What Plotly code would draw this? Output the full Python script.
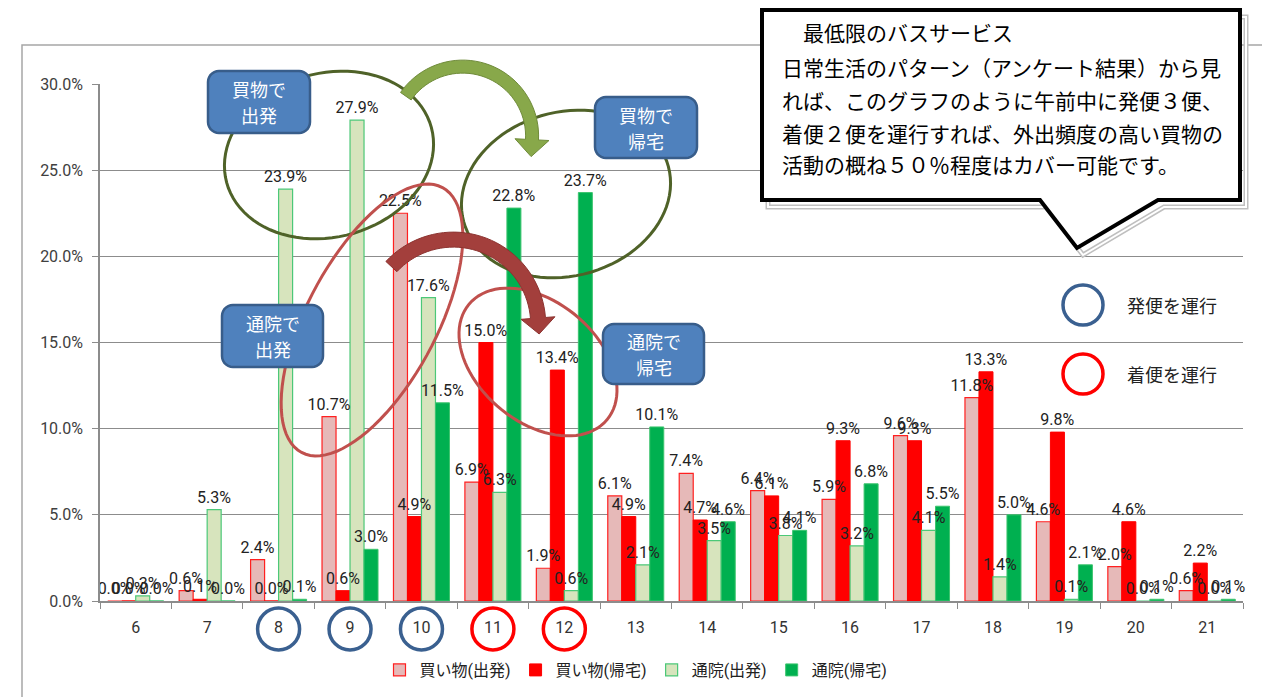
import numpy as np
import plotly.graph_objects as go

# ---------------- data ----------------
hours = ["6", "7", "8", "9", "10", "11", "12", "13", "14", "15", "16", "17", "18", "19", "20", "21"]
series_names = ["買い物(出発)", "買い物(帰宅)", "通院(出発)", "通院(帰宅)"]
shop_dep = [0.0, 0.6, 2.4, 10.7, 22.5, 6.9, 1.9, 6.1, 7.4, 6.4, 5.9, 9.6, 11.8, 4.6, 2.0, 0.6]
shop_ret = [0.0, 0.1, 0.0, 0.6, 4.9, 15.0, 13.4, 4.9, 4.7, 6.1, 9.3, 9.3, 13.3, 9.8, 4.6, 2.2]
clinic_dep = [0.3, 5.3, 23.9, 27.9, 17.6, 6.3, 0.6, 2.1, 3.5, 3.8, 3.2, 4.1, 1.4, 0.1, 0.0, 0.0]
clinic_ret = [0.0, 0.0, 0.1, 3.0, 11.5, 22.8, 23.7, 10.1, 4.6, 4.1, 6.8, 5.5, 5.0, 2.1, 0.1, 0.1]
y_ticks = [0, 5, 10, 15, 20, 25, 30]

callout_lines = [
    "　最低限のバスサービス",
    "日常生活のパターン（アンケート結果）から見",
    "れば、このグラフのように午前中に発便３便、",
    "着便２便を運行すれば、外出頻度の高い買物の",
    "活動の概ね５０％程度はカバー可能です。",
]
box_labels = [("買物で", "出発"), ("買物で", "帰宅"), ("通院で", "出発"), ("通院で", "帰宅")]
dep_hours_idx = [2, 3, 4]      # 8, 9, 10
arr_hours_idx = [5, 6]         # 11, 12
key_labels = ["発便を運行", "着便を運行"]

# ---------------- layout geometry ----------------
W, H = 1262, 697
L, R, T, B = 100, 1243, 84, 601
JP = "Noto Sans CJK JP"
NUM = "Roboto, 'Noto Sans CJK JP', sans-serif"


def px(x, y):
    return ((x - L) / (R - L), (B - y) / (B - T))


def path_from(pts, close=True):
    s = "M " + " L ".join("%.5f,%.5f" % px(x, y) for x, y in pts)
    return s + (" Z" if close else "")


def ellipse_pts(cx, cy, a, b, ang, n=90):
    th = np.radians(ang)
    out = []
    for t in np.linspace(0, 2 * np.pi, n, endpoint=False):
        x = cx + a * np.cos(t) * np.cos(th) - b * np.sin(t) * np.sin(th)
        y = cy + a * np.cos(t) * np.sin(th) + b * np.sin(t) * np.cos(th)
        out.append((x, y))
    return out


def arc_arrow_pts(cx, cy, r, a0, a1, w, hw, hl, n=40):
    angs = np.radians(np.linspace(a0, a1, n))
    outer = [(cx + (r + w / 2) * np.cos(a), cy + (r + w / 2) * np.sin(a)) for a in angs]
    inner = [(cx + (r - w / 2) * np.cos(a), cy + (r - w / 2) * np.sin(a)) for a in angs]
    ae = angs[-1]
    bx, by = cx + r * np.cos(ae), cy + r * np.sin(ae)
    nx, ny = np.cos(ae), np.sin(ae)
    dx, dy = -np.sin(ae), np.cos(ae)
    head = [(bx + hw * nx, by + hw * ny), (bx + hl * dx, by + hl * dy), (bx - hw * nx, by - hw * ny)]
    return outer + head + inner[::-1]


def rounded_rect(x0, y0, x1, y1, rad=10, n=8):
    pts = []
    corners = [(x1 - rad, y0 + rad, -90, 0), (x1 - rad, y1 - rad, 0, 90),
               (x0 + rad, y1 - rad, 90, 180), (x0 + rad, y0 + rad, 180, 270)]
    for cx, cy, s, e in corners:
        for a in np.radians(np.linspace(s, e, n)):
            pts.append((cx + rad * np.cos(a), cy + rad * np.sin(a)))
    return pts


# ---------------- traces ----------------
fig = go.Figure()
styles = [
    dict(color="#E6B9B8", line=dict(color="#FF2020", width=1.2)),
    dict(color="#FF0000", line=dict(color="#FF0000", width=1)),
    dict(color="#D7E4BD", line=dict(color="#4CC878", width=1.2)),
    dict(color="#00B050", line=dict(color="#3CC46E", width=1)),
]
all_vals = [shop_dep, shop_ret, clinic_dep, clinic_ret]
groups = ["g0", "g1", "g2", "g3"]
for name, vals, st, g in zip(series_names, all_vals, styles, groups):
    fig.add_trace(go.Bar(x=hours, y=vals, name=name, marker=st, offsetgroup=g))
# text-only overlays so labels are drawn above every bar
for vals, g in zip(all_vals, groups):
    fig.add_trace(go.Bar(
        x=hours, y=vals, offsetgroup=g, showlegend=False, hoverinfo="skip",
        marker=dict(color="rgba(0,0,0,0)", line=dict(width=0)),
        text=["%.1f%%" % v for v in vals], textposition="outside",
        textfont=dict(size=16, color="#222222", family=NUM),
        cliponaxis=False, constraintext="none",
    ))

shapes = []
annos = []

# chart area border
shapes.append(dict(type="path", xref="paper", yref="paper",
                   path=path_from([(22, 700), (22, 45), (1265, 45)], close=False),
                   line=dict(color="#A6A6A6", width=1.5)))

# olive ellipses
for cx, cy in [(329, 155), (566, 194)]:
    shapes.append(dict(type="path", xref="paper", yref="paper",
                       path=path_from(ellipse_pts(cx, cy, 106, 82, -15)),
                       line=dict(color="#4F6228", width=3)))
# red ellipses
shapes.append(dict(type="path", xref="paper", yref="paper",
                   path=path_from(ellipse_pts(372, 320, 150, 65, -62)),
                   line=dict(color="#C0504D", width=3)))
shapes.append(dict(type="path", xref="paper", yref="paper",
                   path=path_from(ellipse_pts(538, 362, 90, 60, 40)),
                   line=dict(color="#C0504D", width=3)))

# curved arrows
shapes.append(dict(type="path", xref="paper", yref="paper",
                   path=path_from(arc_arrow_pts(462.7, 136, 69.4, -145, 3, 13, 17, 17)),
                   fillcolor="#88A84A", line=dict(color="#6F8B3A", width=1)))
shapes.append(dict(type="path", xref="paper", yref="paper",
                   path=path_from(arc_arrow_pts(453.4, 324.4, 84.8, -137, -4.3, 15, 17, 16)),
                   fillcolor="#A33F3C", line=dict(color="#8C3330", width=1)))

# blue label boxes
boxes = [(208, 71, 310, 133), (595, 97, 697, 158), (222, 305, 323, 367), (603, 324, 704, 384)]
for (x0, y0, x1, y1), (l1, l2) in zip(boxes, box_labels):
    shapes.append(dict(type="path", xref="paper", yref="paper",
                       path=path_from(rounded_rect(x0, y0, x1, y1, 11)),
                       fillcolor="#4F81BD", line=dict(color="#385D8A", width=2.5)))
    cxp = (x0 + x1) / 2
    cyp = (y0 + y1) / 2
    for txt, dy in [(l1, -13), (l2, 13)]:
        xx, yy = px(cxp, cyp + dy)
        annos.append(dict(x=xx, y=yy, xref="paper", yref="paper", text=txt, showarrow=False,
                           xanchor="center", yanchor="middle",
                           font=dict(family=JP, size=18, color="white")))

# circles around x tick labels
cat_w = (R - L) / len(hours)
rad_cat = 21 / cat_w
for idxs, col in [(dep_hours_idx, "#3A6090"), (arr_hours_idx, "#FF0000")]:
    for i in idxs:
        _, y0p = px(0, 650)
        _, y1p = px(0, 608)
        shapes.append(dict(type="circle", xref="x", yref="paper",
                           x0=i - rad_cat, x1=i + rad_cat, y0=y0p, y1=y1p,
                           line=dict(color=col, width=3.5)))

# key circles
for (cy, col), txt in zip([(305, "#3A6090"), (374, "#FF0000")], key_labels):
    x0p, y0p = px(1063, cy + 20)
    x1p, y1p = px(1103, cy - 20)
    shapes.append(dict(type="circle", xref="paper", yref="paper",
                       x0=x0p, x1=x1p, y0=y0p, y1=y1p, line=dict(color=col, width=3.5)))
    xx, yy = px(1125, cy)
    annos.append(dict(x=xx, y=yy, xref="paper", yref="paper", text=txt, showarrow=False,
                       xanchor="left", yanchor="middle",
                       font=dict(family=JP, size=18, color="#222222")))

# callout box
call = [(762, 10), (1240, 10), (1240, 200), (1158, 200), (1077, 248), (1040, 200), (762, 200)]
shadow = [(x + 6, y + 7) for x, y in call]
shapes.append(dict(type="path", xref="paper", yref="paper", path=path_from(shadow),
                   line=dict(color="#BFBFBF", width=5)))
shapes.append(dict(type="path", xref="paper", yref="paper", path=path_from(shadow),
                   line=dict(color="#FFFFFF", width=2)))
shapes.append(dict(type="path", xref="paper", yref="paper", path=path_from(call),
                   fillcolor="#FFFFFF", line=dict(color="#000000", width=4)))
for txt, yc in zip(callout_lines, [32, 67, 100, 133, 164]):
    xx, yy = px(780, yc)
    annos.append(dict(x=xx, y=yy, xref="paper", yref="paper", text=txt, showarrow=False,
                       xanchor="left", yanchor="middle",
                       font=dict(family=JP, size=21, color="#000000")))

lx, ly = px(636, 670)
fig.update_layout(
    width=W, height=H, autosize=False,
    margin=dict(l=L, r=W - R, t=T, b=H - B, autoexpand=False),
    paper_bgcolor="white", plot_bgcolor="white",
    font=dict(family=NUM, size=16, color="#333333"),
    barmode="group", bargap=0.216, bargroupgap=0,
    showlegend=True,
    legend=dict(orientation="h", x=lx, y=ly, xanchor="center", yanchor="middle",
                font=dict(family=NUM, size=16, color="#222222"), itemwidth=30,
                bgcolor="rgba(0,0,0,0)"),
    shapes=shapes, annotations=annos,
)
fig.update_xaxes(type="category", showline=True, linecolor="#8C8C8C", linewidth=1.5,
                 ticks="outside", tickson="boundaries", ticklen=6, tickcolor="#8C8C8C",
                 showgrid=False, tickfont=dict(size=16, color="#333333"),
                 ticklabelstandoff=11, fixedrange=True)
fig.update_yaxes(range=[0, 30], tickvals=y_ticks, ticktext=["%.1f%%" % v for v in y_ticks],
                 showline=True, linecolor="#8C8C8C", linewidth=1.5,
                 ticks="outside", ticklen=6, tickcolor="#8C8C8C",
                 showgrid=True, gridcolor="#8C8C8C", gridwidth=1, zeroline=False,
                 tickfont=dict(size=16, color="#404040"), ticklabelstandoff=6, fixedrange=True)

fig.write_html("out.html")
